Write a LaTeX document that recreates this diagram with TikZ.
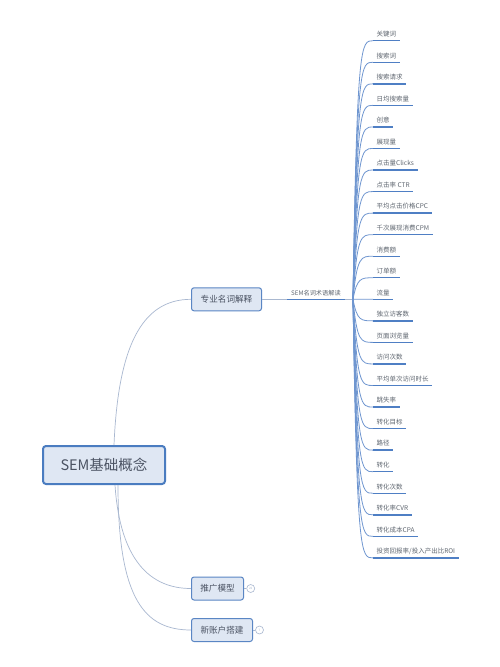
\documentclass[tikz,border=0pt]{standalone}
\usepackage{fontspec}
\setmainfont{Noto Sans CJK SC}
\definecolor{boxfill}{HTML}{DFE7F3}
\definecolor{boxline}{HTML}{5A86C4}
\definecolor{rootline}{HTML}{4A7CC0}
\definecolor{conn}{HTML}{A9B8D0}
\definecolor{fanc}{HTML}{6F96D0}
\definecolor{ulc}{HTML}{4F7FC4}
\definecolor{txt}{HTML}{4A5262}
\definecolor{itxt}{HTML}{5F6670}
\tikzset{
  rootbox/.style={draw=rootline, line width=2pt, fill=boxfill, rounded corners=3pt,
    minimum width=122pt, minimum height=38pt, inner sep=0pt,
    font=\fontsize{14.5}{16}\selectfont, text=txt},
  subbox/.style={draw=boxline, line width=1pt, fill=boxfill, rounded corners=2.5pt,
    minimum height=23pt, inner sep=0pt, anchor=west,
    font=\fontsize{8.6}{10}\selectfont, text=txt},
  item/.style={anchor=south west, inner xsep=3.5pt, inner ysep=3pt,
    text height=5pt, text depth=1pt,
    font=\fontsize{6.5}{7}\selectfont, text=itxt},
  midlabel/.style={anchor=south west, inner xsep=4pt, inner ysep=3pt,
    text height=5pt, text depth=1pt,
    font=\fontsize{6.2}{7}\selectfont, text=itxt},
  uline/.style={draw=ulc, line width=1.4pt},
  fan/.style={draw=fanc, line width=0.8pt},
  conline/.style={draw=conn, line width=0.7pt},
  foldmark/.style={circle, draw=conn, line width=0.6pt, minimum size=8pt, inner sep=0pt,
    font=\fontsize{3}{3}\selectfont, text=conn},
}
\begin{document}
\begin{tikzpicture}[x=1pt, y=-1pt]
\useasboundingbox (0,0) rectangle (500,667);
\fill[white] (0,0) rectangle (500,667);

% root and second level
\node[rootbox] (root) at (104,465) {SEM基础概念};
\node[subbox, minimum width=70pt] (l2a) at (191,299.3) {专业名词解释};
\node[subbox, minimum width=52pt] (l2b) at (191,588.5) {推广模型};
\node[subbox, minimum width=61pt] (l2c) at (191,630) {新账户搭建};

\draw[conline] ([xshift=10pt]root.north) .. controls (118,350) and (140,299.3) .. (l2a.west);
\draw[conline] ([xshift=11pt]root.south) .. controls (120,560) and (150,588.5) .. (l2b.west);
\draw[conline] ([xshift=14pt]root.south) .. controls (118,600) and (145,630) .. (l2c.west);

% fold marks
\node[foldmark] (fb) at (250.7,588.5) {22};
\node[foldmark] (fc) at (259.5,630) {7};
\draw[conline] (l2b.east) -- (fb.west);
\draw[conline] (l2c.east) -- (fc.west);

% middle label
\node[midlabel] (mid) at (287,299.3) {SEM名词术语解读};
\draw[uline] (mid.south west) -- (mid.south east);
\draw[conline] (l2a.east) -- (mid.south west);
\coordinate (hub) at (353,299.3);
\draw[conline] (mid.south east) -- (hub);

% items
\foreach \t [count=\k from 0] in {关键词,搜索词,搜索请求,日均搜索量,创意,展现量,点击量Clicks,点击率 CTR,平均点击价格CPC,千次展现消费CPM,消费额,订单额,流量,独立访客数,页面浏览量,访问次数,平均单次访问时长,跳失率,转化目标,路径,转化,转化次数,转化率CVR,转化成本CPA,投资回报率/投入产出比ROI}{
  \pgfmathsetmacro\yy{40.7+21.55*\k}
  \node[item] (i\k) at (373,\yy) {\t};
  \draw[uline] (i\k.south west) -- (i\k.south east);
  \draw[fan] (hub) .. controls (357,\yy) and (361,\yy) .. (i\k.south west);
}
\end{tikzpicture}
\end{document}
